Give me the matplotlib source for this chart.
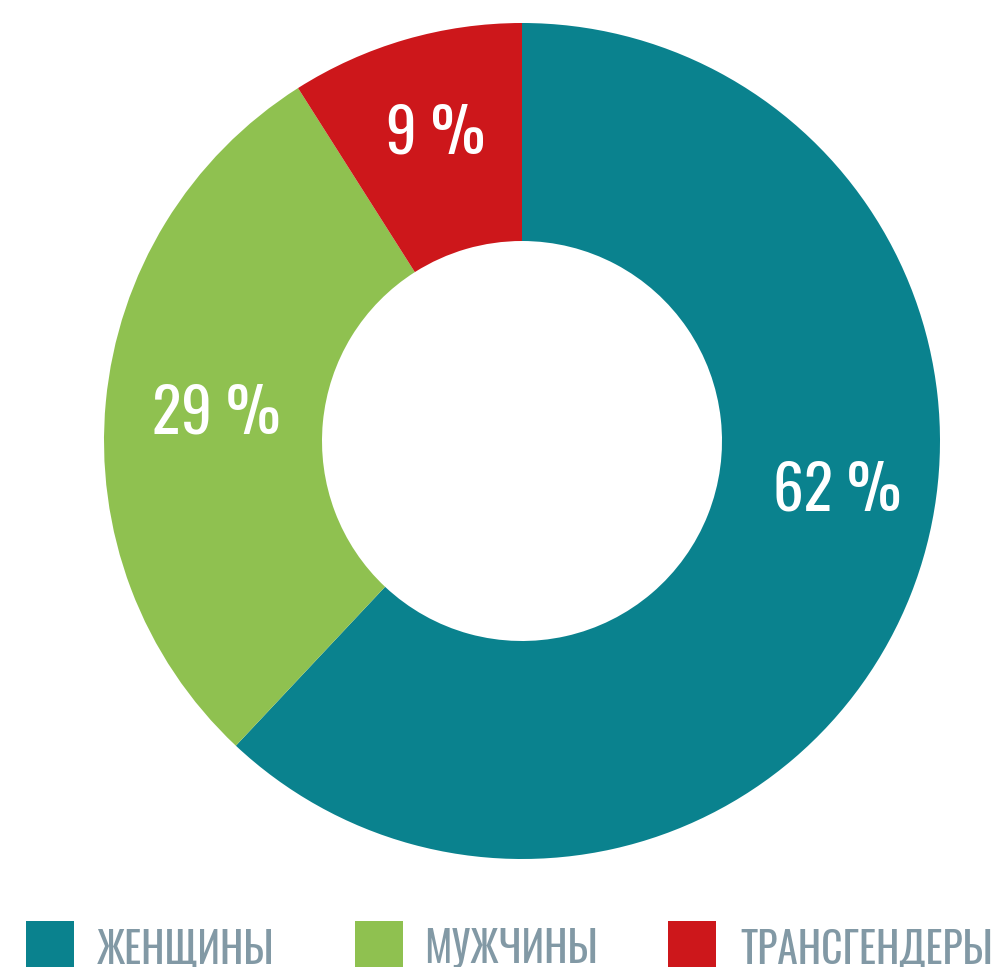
import matplotlib.pyplot as plt
from matplotlib.patches import Rectangle

labels = ['ЖЕНЩИНЫ', 'МУЖЧИНЫ', 'ТРАНСГЕНДЕРЫ']
values = [62, 29, 9]
colors = ['#0A828E', '#8FC150', '#CD171B']

font = ['Oswald', 'Roboto Condensed', 'DejaVu Sans']

fig = plt.figure(figsize=(10.04, 9.67), dpi=100)
ax = fig.add_axes([0, 0, 1, 1])

wedges, _ = ax.pie(values, colors=colors, startangle=90, counterclock=False,
                   center=(522, 526), radius=418,
                   wedgeprops=dict(width=218, linewidth=0))

# pie() сбрасывает пределы, поэтому ставим их после
ax.set_xlim(0, 1004)
ax.set_ylim(0, 967)
ax.set_aspect('equal')
ax.axis('off')

# подписи процентов
label_pos = [(837, 481), (216, 559), (436, 839)]
for v, (x, y) in zip(values, label_pos):
    ax.text(x, y, f'{v} %', color='white', fontsize=44, family=font,
            weight='light', ha='center', va='center_baseline')

# легенда
box_x = [26, 355, 668]
text_x = [97, 424, 740]
for lab, c, bx, tx in zip(labels, colors, box_x, text_x):
    ax.add_patch(Rectangle((bx, 0), 48, 46, color=c, lw=0))
    ax.text(tx, 4, lab, color='#8299A5', fontsize=30, family=font,
            weight='light', ha='left', va='baseline')

fig.savefig('out.png', dpi=100)
